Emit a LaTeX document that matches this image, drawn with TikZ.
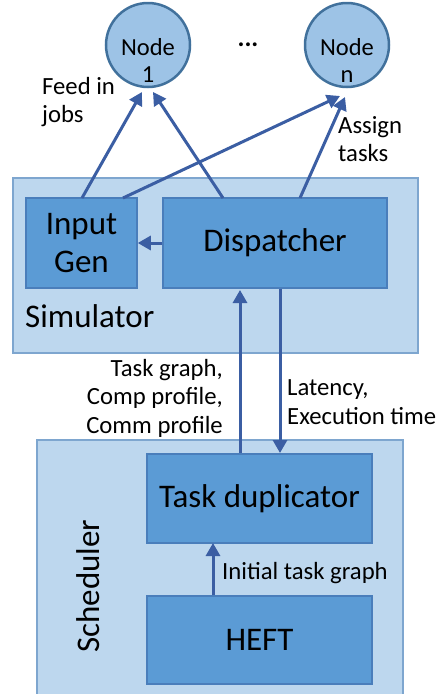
\documentclass[tikz,border=0pt]{standalone}
\usepackage{fontspec}
\setmainfont{Carlito}
\usetikzlibrary{arrows.meta,calc}
\definecolor{outerfill}{HTML}{BDD7EE}
\definecolor{outerdraw}{HTML}{7EA6CF}
\definecolor{innerfill}{HTML}{5B9BD5}
\definecolor{innerdraw}{HTML}{4A7EBB}
\definecolor{circfill}{HTML}{9DC3E6}
\definecolor{circdraw}{HTML}{41719C}
\definecolor{arrowc}{HTML}{3B5EA3}
\begin{document}
\begin{tikzpicture}[x=1pt,y=-1pt,
  outerbox/.style={draw=outerdraw, fill=outerfill, line width=1.5pt, inner sep=0pt},
  innerbox/.style={draw=innerdraw, fill=innerfill, line width=1.5pt, inner sep=0pt, font=\fontsize{33}{38}\selectfont, align=center},
  circ/.style={circle, draw=circdraw, fill=circfill, line width=2.5pt, minimum size=84pt, inner sep=0pt},
  small/.style={font=\fontsize{24.7}{28.5}\selectfont, inner sep=0pt},
  arr/.style={draw=arrowc, line width=3pt, -{Triangle[length=13pt,width=14pt]}}]
\useasboundingbox (0,0) rectangle (437,694);
\clip (0,0) rectangle (437,694);
% circles
\node[circ] (n1) at (148,45) {};
\node[circ] (nn) at (347,45) {};
\node[align=center, font=\fontsize{24.5}{27}\selectfont, inner sep=0pt] (n1t) at (148,60) {Node\\1};
\node[align=center, font=\fontsize{24.5}{27}\selectfont, inner sep=0pt] (nnt) at (347,60) {Node\\n};
\node[font=\fontsize{26}{28}\selectfont\bfseries, inner sep=0pt] (dots) at (248,45) {...};
% simulator
\node[outerbox, minimum width=405pt, minimum height=175pt] (sim) at (215.5,265.5) {};
\node[innerbox, minimum width=111pt, minimum height=90pt] (ig) at (81.5,243) {Input\\Gen};
\node[innerbox, minimum width=224pt, minimum height=90pt] (disp) at (275,243) {Dispatcher};
\node[font=\fontsize{33}{38}\selectfont, inner sep=0pt, anchor=west] (simt) at (25,316) {Simulator};
% scheduler
\node[outerbox, minimum width=366pt, minimum height=300pt] (sch) at (220,590) {};
\node[innerbox, minimum width=225pt, minimum height=89pt] (td) at (259.5,498.5) {Task duplicator};
\node[innerbox, minimum width=225pt, minimum height=88pt] (heft) at (259.5,640) {HEFT};
\node[font=\fontsize{33}{38}\selectfont, inner sep=0pt, rotate=90] (scht) at (88,586) {Scheduler};
% coordinates
\coordinate (a1s) at (82,198);
\coordinate (a1e) at (142,92);
\coordinate (a2s) at (223,198);
\coordinate (a2e) at (153,92);
\coordinate (a3s) at (123,198);
\coordinate (a3e) at (340,96);
\coordinate (a4s) at (300,198);
\coordinate (a4e) at (345,97);
\draw[arr] (a1s) -- (a1e);
\draw[arr] (a2s) -- (a2e);
\draw[arr] (a3s) -- (a3e);
\draw[arr] (a4s) -- (a4e);
\draw[arr] (disp.west) -- (ig.east);
\draw[arr] (td.north -| 240,0) -- (240,290);
\draw[arr] (disp.south -| 280,0) -- (280,453);
\draw[arr] (heft.north -| 213,0) -- (213,543);
% labels
\node[small, align=left, anchor=west] (feed) at (42,102) {Feed in\\jobs};
\node[small, align=left, anchor=west] (assign) at (338,139) {Assign\\tasks};
\node[small, align=right, anchor=east] (tg) at (223,398) {Task graph,\\Comp profile,\\Comm profile};
\node[small, align=left, anchor=west] (lat) at (287,402) {Latency,\\Execution time};
\node[small, anchor=west] (init) at (222,573) {Initial task graph};
\end{tikzpicture}
\end{document}
